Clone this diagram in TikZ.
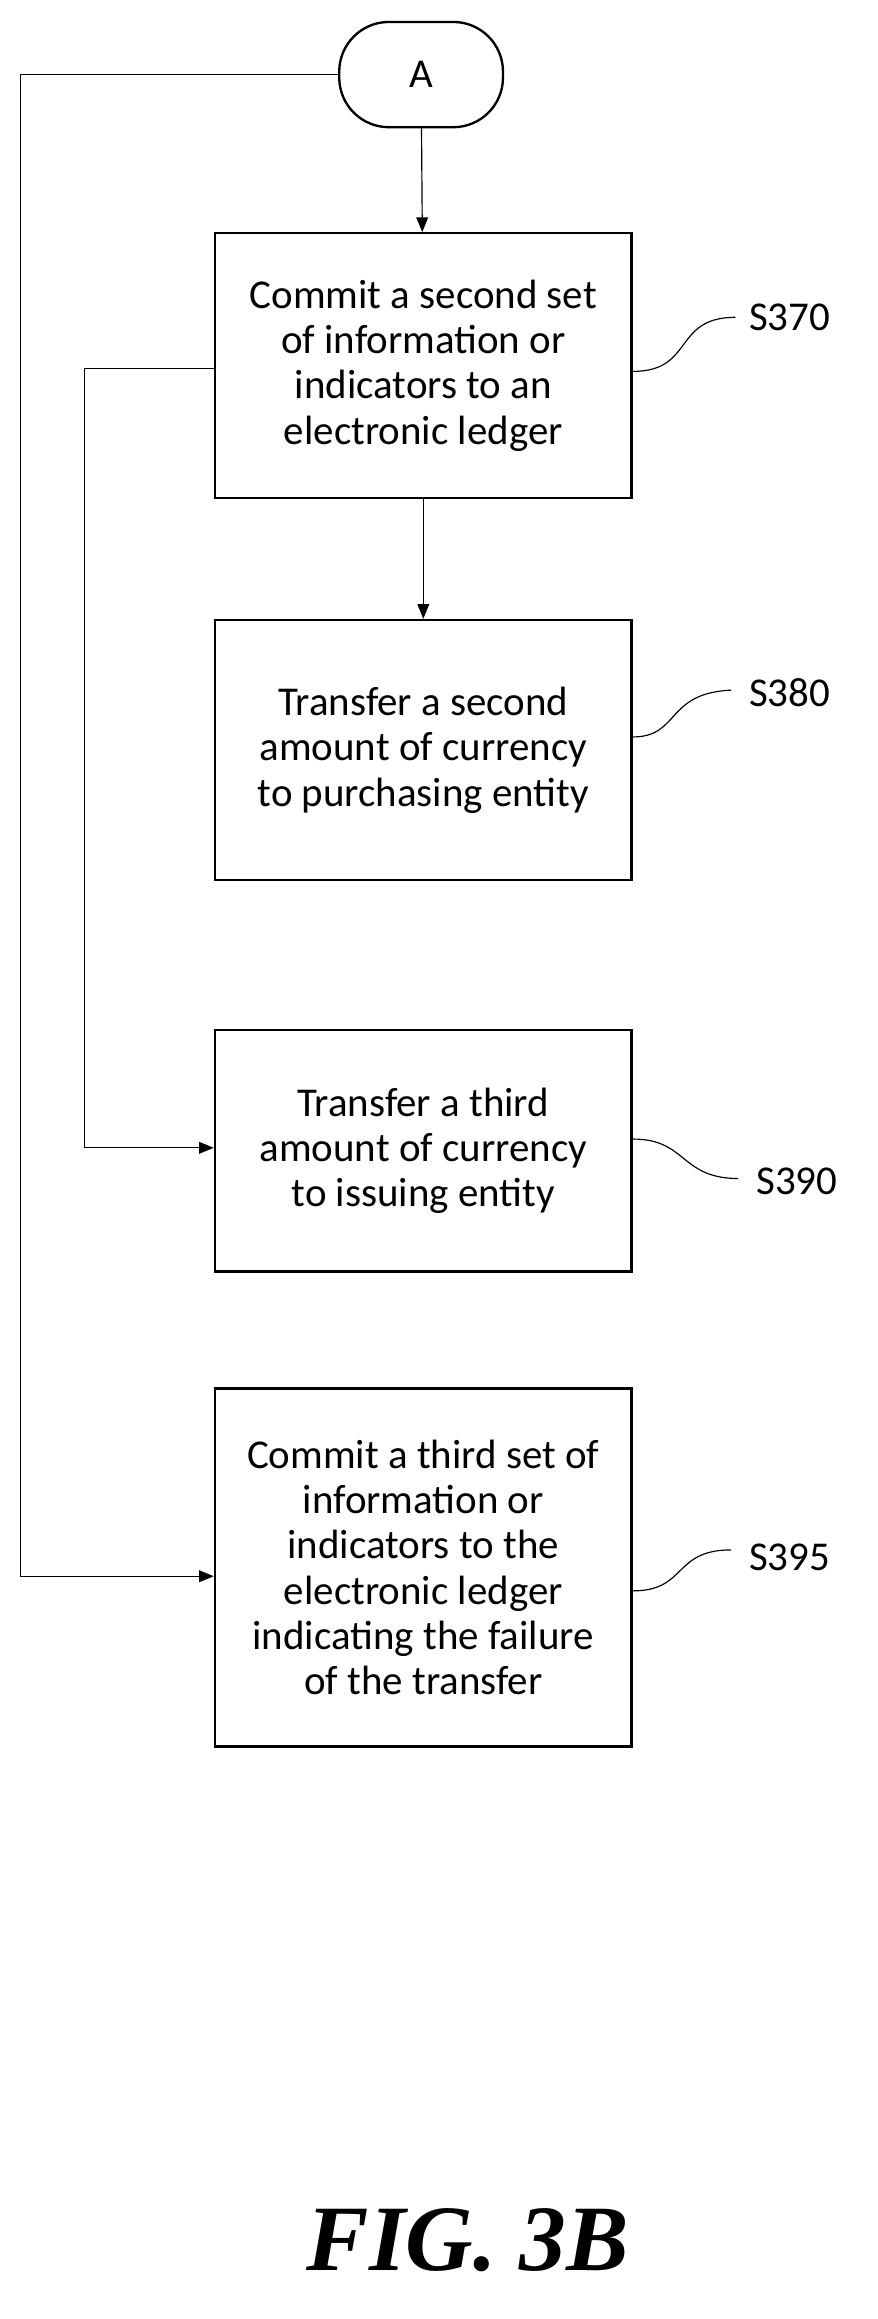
\documentclass[tikz,border=0pt]{standalone}
\usepackage{fontspec}
\setmainfont{Carlito}
\newfontfamily\figfont{Liberation Serif}
\usetikzlibrary{arrows.meta}

\begin{document}
\begin{tikzpicture}[x=0.5pt,y=-0.5pt,
    stepbox/.style={draw,thick,minimum width=142.5pt,align=center,font=\fontsize{14}{15.5}\selectfont},
    tag/.style={font=\fontsize{14}{16}\selectfont},
    flow/.style={-{Triangle[length=5pt,width=4pt]},thin}]
    \useasboundingbox (0,0) rectangle (600,1586);

    \node[draw,thick,rounded corners=17pt,minimum width=56pt,minimum height=36pt,font=\fontsize{14}{16}\selectfont] (A) at (288,51) {A};
    \node[stepbox,minimum height=90.5pt] (S370) at (289.5,250) {Commit a second set\\of information or\\indicators to an\\electronic ledger};
    \node[stepbox,minimum height=89pt] (S380) at (289.5,513) {Transfer a second\\amount of currency\\to purchasing entity};
    \node[stepbox,minimum height=82.5pt] (S390) at (289.5,787) {Transfer a third\\amount of currency\\to issuing entity};
    \node[stepbox,minimum height=122.5pt] (S395) at (289.5,1072) {Commit a third set of\\information or\\indicators to the\\electronic ledger\\indicating the failure\\of the transfer};

    \node[tag] (L370) at (540,217) {S370};
    \node[tag] (L380) at (540,474) {S380};
    \node[tag] (L390) at (545,808) {S390};
    \node[tag] (L395) at (540,1065) {S395};

    \draw[flow] (A) -- (S370);
    \draw[flow] (S370) -- (S380);
    \draw[flow] (A.west) -| (14,1078) -- (S395.west |- 0,1078);
    \draw[flow] (S370.west |- 0,252) -| (58,785) -- (S390.west |- 0,785);

    \draw (S370.east |- 0,254) .. controls (475,254) and (460,217) .. (503,217);
    \draw (S380.east |- 0,504) .. controls (465,504) and (455,474) .. (500,472);
    \draw (S390.east |- 0,779) .. controls (470,779) and (465,806) .. (505,806);
    \draw (S395.east |- 0,1088) .. controls (470,1088) and (460,1060) .. (500,1060);

    \node[font=\figfont\bfseries\itshape\fontsize{32}{34}\selectfont] (fig) at (320,1532) {FIG. 3B};
\end{tikzpicture}
\end{document}
